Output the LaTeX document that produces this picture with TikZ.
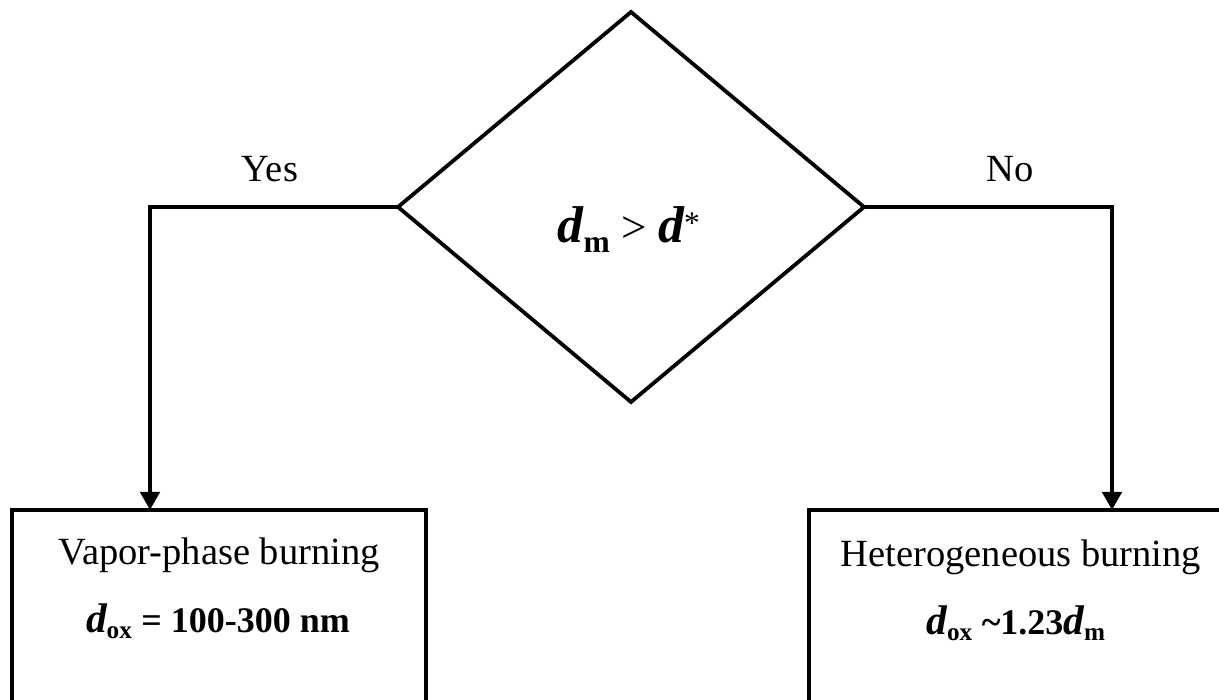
\documentclass[tikz,border=0pt]{standalone}
\usepackage{fontspec}
\usepackage{graphicx}
\setmainfont{Liberation Serif}
\usetikzlibrary{shapes.geometric,arrows.meta}
\tikzset{
  decision/.style={draw, line width=3.8pt, shape=diamond, minimum width=466pt, minimum height=390pt, inner sep=0pt, outer sep=0pt},
  resultbox/.style={draw, line width=4.8pt, minimum width=414pt, minimum height=240pt, inner sep=0pt, outer sep=0pt, anchor=north west},
  conn/.style={line width=4.5pt, -{Triangle[length=18pt,width=19pt]}},
  lbl/.style={font=\fontsize{38.5pt}{42pt}\selectfont, anchor=base, inner sep=0pt},
  frm/.style={font=\fontsize{36pt}{42pt}\selectfont, anchor=base, inner sep=0pt},
  bigfrm/.style={font=\fontsize{45pt}{52pt}\selectfont, anchor=base, inner sep=0pt}
}
\newcommand{\bid}{\scalebox{1.15}{\bfseries\itshape d}}
\newcommand{\bsub}[1]{\raisebox{-0.08em}{\textsubscript{\bfseries #1}}}
\begin{document}
\begin{tikzpicture}[x=1pt,y=-1pt]
\useasboundingbox (0,0) rectangle (1219,700);
\node[decision] (dia) at (631,207) {};
\node[bigfrm] (cond) at (629,243) {\bid\bsub{m} > \bid\textsuperscript{*}};
\node[resultbox] (lbox) at (12,510) {};
\node[resultbox, minimum width=430pt] (rbox) at (809,510) {};
\node[lbl] (vap) at (219,565) {Vapor-phase burning};
\node[frm] (vapf) at (218,632) {\bid\bsub{ox}\textbf{ = 100-300 nm}};
\node[lbl] (het) at (1021,566) {Heterogeneous burning};
\node[frm] (hetf) at (1016,634) {\bid\bsub{ox}\textbf{ \char`~1.23}\bid\bsub{m}};
\node[lbl] (yes) at (270,182) {Yes};
\node[lbl] (no) at (1010,182) {No};
\coordinate (lc) at (150,207);
\coordinate (rc) at (1112,207);
\draw[conn] (dia.west) -- (lc) -- (lc |- lbox.north);
\draw[conn] (dia.east) -- (rc) -- (rc |- rbox.north);
\end{tikzpicture}
\end{document}
